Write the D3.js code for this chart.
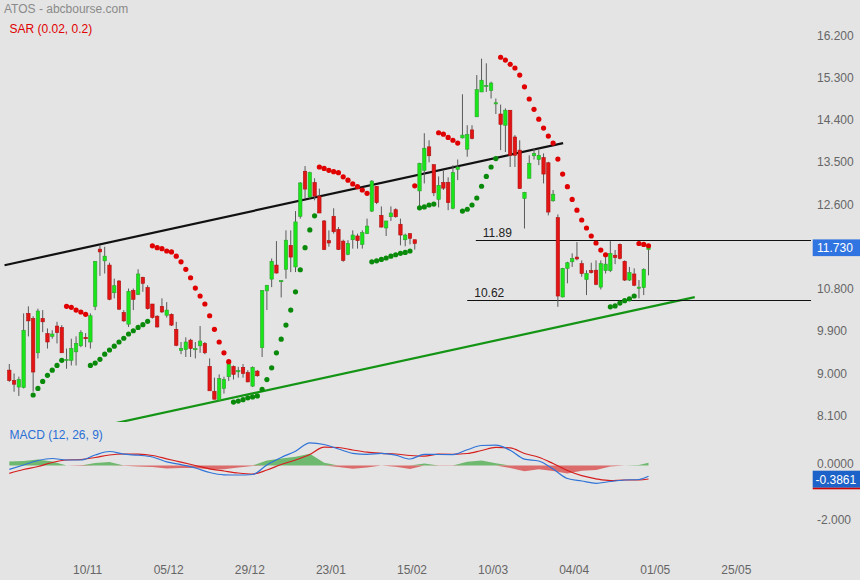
<!DOCTYPE html>
<html><head><meta charset="utf-8">
<script src="https://cdn.jsdelivr.net/npm/d3@7"></script>
<style>
html,body{margin:0;padding:0;background:#e4e4e4;}
svg{display:block;font-family:"Liberation Sans",Arial,sans-serif;}
</style></head><body>
<svg id="c" width="860" height="580"></svg>
<script>
// ---------- DATA ----------
const open = [
9.12, 8.90, 8.76, 8.75, 10.33, 10.22, 9.49, 10.22, 9.90, 9.84,
10.06, 10.03, 9.35, 9.33, 9.51, 9.64, 9.82, 9.72, 10.48, 11.70,
11.45, 11.36, 10.77, 11.02, 10.35, 10.10, 10.82, 10.73, 11.10, 10.88,
10.53, 10.27, 10.48, 10.29, 10.31, 9.99, 9.54, 9.56, 9.76, 9.58,
9.64, 9.69, 9.20, 8.67, 8.48, 8.73, 8.98, 9.20, 9.10, 9.18,
9.07, 8.78, 9.10, 9.60, 10.81, 11.06, 11.36, 11.02, 11.27, 11.78,
11.32, 12.40, 13.36, 12.81, 13.12, 12.83, 12.30, 11.88, 12.40, 12.12,
11.87, 11.59, 11.90, 11.98, 11.80, 12.03, 12.51, 13.04, 12.42, 12.15,
12.39, 12.54, 12.23, 11.90, 12.03, 11.90, 12.94, 13.38, 13.88, 13.50,
12.76, 13.12, 13.12, 12.57, 13.40, 14.07, 13.83, 14.24, 14.52, 15.05,
15.19, 15.08, 14.82, 14.58, 14.34, 14.66, 14.09, 13.81, 12.78, 13.21,
13.69, 13.61, 13.65, 13.54, 12.73, 12.37, 10.68, 11.29, 11.43, 11.53,
11.39, 11.05, 11.24, 11.25, 10.89, 11.24, 11.24, 11.57, 11.80, 11.44,
11.04, 11.17, 10.89, 10.88, 11.69];
const high = [
9.25, 9.05, 8.98, 10.33, 10.48, 10.27, 10.43, 10.40, 10.01, 9.97,
10.15, 10.08, 9.58, 9.79, 9.84, 9.97, 9.91, 10.33, 11.44, 11.78,
11.75, 11.41, 11.07, 11.04, 10.40, 10.86, 10.86, 11.27, 11.11, 10.93,
10.53, 10.29, 10.65, 10.57, 10.33, 10.15, 9.72, 9.82, 9.79, 9.72,
10.06, 9.72, 9.37, 8.96, 9.03, 8.98, 9.30, 9.22, 9.19, 9.25,
9.12, 9.20, 9.12, 10.82, 10.93, 11.50, 11.87, 11.04, 12.10, 12.10,
12.51, 13.13, 13.47, 13.35, 13.21, 12.99, 12.32, 12.10, 12.57, 12.17,
11.90, 11.89, 12.10, 12.03, 12.10, 12.35, 13.17, 13.04, 12.61, 12.30,
12.61, 12.57, 12.35, 12.03, 12.03, 11.90, 13.54, 14.17, 14.02, 13.50,
13.25, 13.37, 13.23, 13.49, 13.61, 15.00, 14.34, 14.34, 15.41, 15.76,
15.66, 15.27, 14.91, 14.78, 14.70, 14.66, 14.13, 14.02, 12.92, 13.70,
13.85, 13.81, 13.74, 13.56, 12.96, 12.44, 11.30, 11.43, 11.61, 11.85,
11.46, 11.25, 11.41, 11.46, 11.46, 11.53, 11.87, 11.68, 11.82, 11.46,
11.32, 11.29, 11.04, 11.29, 11.76];
const low = [
8.87, 8.66, 8.57, 8.73, 9.84, 8.66, 9.37, 9.93, 9.58, 9.79,
9.69, 9.49, 9.15, 9.22, 9.22, 9.61, 9.61, 9.58, 10.40, 11.13,
11.18, 10.61, 10.65, 10.40, 10.15, 10.04, 10.40, 10.72, 10.79, 10.41,
10.22, 10.03, 10.34, 10.24, 10.06, 9.63, 9.46, 9.40, 9.40, 9.37,
9.49, 9.46, 8.68, 8.50, 8.47, 8.62, 8.89, 8.92, 8.96, 8.96,
8.86, 8.76, 8.98, 9.40, 10.40, 10.89, 11.18, 10.67, 11.07, 11.21,
11.21, 12.35, 12.78, 12.78, 12.74, 12.47, 11.68, 11.75, 12.03, 11.68,
11.43, 11.57, 11.71, 11.71, 11.71, 12.02, 12.49, 12.66, 12.16, 11.98,
12.30, 12.37, 11.78, 11.76, 11.80, 11.69, 12.60, 13.10, 13.55, 12.83,
12.59, 12.96, 12.53, 12.55, 13.17, 14.06, 13.67, 14.04, 14.52, 15.05,
15.05, 14.91, 14.58, 13.81, 13.77, 13.45, 13.45, 12.99, 12.14, 13.21,
13.61, 13.49, 13.10, 12.42, 12.71, 10.47, 10.67, 10.97, 11.32, 11.46,
11.11, 10.72, 11.18, 10.93, 10.84, 11.18, 11.21, 11.38, 11.48, 11.02,
11.02, 10.91, 10.65, 10.72, 11.14];
const close = [
8.90, 8.82, 8.92, 9.97, 10.17, 9.08, 10.38, 10.15, 9.72, 9.89,
9.92, 9.49, 9.35, 9.58, 9.69, 9.92, 9.79, 10.28, 11.44, 11.64,
11.55, 10.63, 10.92, 10.42, 10.17, 10.80, 10.63, 11.17, 10.97, 10.43,
10.24, 10.04, 10.36, 10.40, 10.08, 9.65, 9.58, 9.72, 9.58, 9.58,
9.74, 9.49, 8.68, 8.50, 8.94, 8.92, 9.25, 9.03, 9.11, 9.05,
8.87, 9.18, 9.00, 10.82, 10.93, 11.44, 11.19, 11.03, 11.89, 11.53,
12.28, 13.11, 12.98, 13.33, 12.83, 12.47, 11.69, 11.83, 12.07, 11.69,
11.46, 11.82, 12.00, 11.88, 12.05, 12.19, 13.15, 12.69, 12.17, 12.30,
12.47, 12.39, 12.00, 12.00, 11.93, 11.82, 13.53, 13.85, 13.69, 12.90,
13.06, 13.00, 12.69, 13.33, 13.45, 14.13, 14.14, 14.06, 15.10, 15.30,
15.19, 15.24, 14.82, 14.36, 14.66, 13.70, 13.70, 12.99, 12.91, 13.53,
13.74, 13.70, 13.30, 12.49, 12.87, 10.70, 11.29, 11.41, 11.50, 11.49,
11.18, 11.18, 11.20, 10.95, 11.39, 11.38, 11.61, 11.52, 11.50, 11.04,
11.20, 10.93, 10.89, 11.27, 11.73];
// Parabolic SAR (0.02, 0.2), one value per bar
const sar = [null, null, null, null, null,
8.59, 8.73, 8.88, 9.01, 9.12,
9.22, 9.33, 10.48, 10.46, 10.40, 10.36, 10.31, 9.22, 9.27, 9.35,
9.46, 9.55, 9.63, 9.72, 9.80, 9.89, 9.96, 10.03, 10.09, 10.16,
11.77, 11.73, 11.71, 11.66, 11.64, 11.55, 11.43, 11.27, 11.09, 10.87,
10.70, 10.53, 10.28, 9.99, 9.72, 9.49, 9.30, 8.44, 8.46, 8.49,
8.53, 8.55, 8.57, 8.71, 8.92, 9.17, 9.49, 9.78, 10.08, 10.40,
10.79, 11.26, 11.73, 12.11, 12.41, 13.45, 13.42, 13.38, 13.35, 13.33,
13.24, 13.17, 13.09, 13.03, 12.96, 12.89, 11.43, 11.45, 11.48, 11.51,
11.55, 11.58, 11.61, 11.63, 11.66, 13.05, 12.58, 12.60, 12.64, 12.66,
14.18, 14.15, 14.08, 14.02, 13.96, 12.51, 12.55, 12.64, 12.79, 13.04,
13.25, 13.45, 13.63, 15.79, 15.73, 15.64, 15.56, 15.41, 15.16, 14.90,
14.68, 14.47, 14.28, 14.11, 13.96, 13.62, 13.30, 13.03, 12.76, 12.53,
12.32, 12.15, 11.98, 11.83, 11.68, 11.58, 10.47, 10.49, 10.55, 10.60,
10.64, 10.70, 11.82, 11.80, 11.77];
// MACD (12, 26, 9), read at these bars
const macdBars = [0,3,6,9,12,15,18,21,24,27,30,33,36,39,42,45,48,51,54,57,60,63,66,69,72,75,78,81,84,87,90,93,96,99,102,105,108,111,114,117,120,123,126,129,132,134];
const macdLine = [-0.136,0.018,0.179,0.25,0.196,0.196,0.375,0.5,0.404,0.368,0.304,0.132,0.029,-0.089,-0.25,-0.332,-0.339,-0.321,0.018,0.286,0.511,0.811,0.75,0.589,0.436,0.4,0.432,0.368,0.232,0.4,0.393,0.389,0.561,0.714,0.725,0.543,0.225,0.161,-0.125,-0.464,-0.554,-0.636,-0.571,-0.518,-0.5,-0.386];
const signalLine = [-0.279,-0.143,-0.036,0.107,0.196,0.214,0.286,0.375,0.411,0.404,0.357,0.239,0.118,0,-0.118,-0.196,-0.268,-0.304,-0.161,0.036,0.196,0.393,0.654,0.643,0.554,0.475,0.436,0.411,0.357,0.332,0.404,0.4,0.429,0.536,0.646,0.629,0.429,0.296,0.071,-0.179,-0.364,-0.475,-0.539,-0.518,-0.518,-0.482];
// x tick labels (bar index of each label)
const tickBars = [16,33,50,67,84,101,118,135,152];
const tickLabels = ["10/11","05/12","29/12","23/01","15/02","10/03","04/04","01/05","25/05"];
const priceTicks = [16.2,15.3,14.4,13.5,12.6,10.8,9.9,9.0,8.1];
const macdTicks = [0,-2];
const macdTickLabels = ["0.0000","-2.000"];
// trend lines [bar, price]
const upperTrend = [[-1.0,11.357],[116.1,13.958]];
const lowerTrend = [[20.0,7.94],[143.7,10.675]];
// horizontal levels
const levelValues = [11.89, 10.62];
const levelStart = [97.8, 96.0];
const lastPrice = 11.73;
const lastMacd = -0.3861;

// ---------- CHART ----------
const svg = d3.select("#c");
svg.append("rect").attr("width",860).attr("height",580).attr("fill","#e4e4e4");

const x = d3.scaleLinear().domain([0,134]).range([9.3,648.5]);
const y = d3.scaleLinear().domain([8.1,16.2]).range([418,38]);
const ym = d3.scaleLinear().domain([-2,0]).range([521.5,465.5]);

const defs = svg.append("defs");
defs.append("clipPath").attr("id","cp").append("rect").attr("x",0).attr("y",0).attr("width",811).attr("height",422);
defs.append("clipPath").attr("id","cm").append("rect").attr("x",0).attr("y",425).attr("width",811).attr("height",120);

const price = svg.append("g").attr("clip-path","url(#cp)");
const bars = d3.range(open.length);

// trend lines
const line = d3.line().x(d=>x(d[0])).y(d=>y(d[1]));
price.append("path").attr("d",line(upperTrend)).attr("stroke","#111").attr("stroke-width",2.2).attr("fill","none");
price.append("path").attr("d",line(lowerTrend)).attr("stroke","#149414").attr("stroke-width",2.2).attr("fill","none");

// levels
levelValues.forEach((v,i)=>{
  price.append("line").attr("x1",x(levelStart[i])).attr("x2",811)
    .attr("y1",Math.round(y(v))+0.5).attr("y2",Math.round(y(v))+0.5)
    .attr("stroke","#111").attr("stroke-width",1);
  price.append("text").attr("x",x(levelStart[i])+7).attr("y",y(v)-3)
    .attr("font-size",12).attr("fill","#222").text(v.toFixed(2));
});

// candles
const cg = price.append("g");
cg.selectAll("line.w").data(bars).join("line").attr("class","w")
  .attr("x1",i=>x(i)).attr("x2",i=>x(i))
  .attr("y1",i=>y(high[i])).attr("y2",i=>y(low[i]))
  .attr("stroke","#5a5a5a").attr("stroke-width",1);
cg.selectAll("rect.b").data(bars).join("rect").attr("class","b")
  .attr("x",i=>x(i)-1.7).attr("width",3.4)
  .attr("y",i=>y(Math.max(open[i],close[i])))
  .attr("height",i=>Math.max(1.2,Math.abs(y(open[i])-y(close[i]))))
  .attr("fill",i=>close[i]>=open[i]?"#19e619":"#e31414")
  .attr("stroke",i=>close[i]>=open[i]?"#2fa02f":"#b01010")
  .attr("stroke-width",0.6);

// SAR
price.selectAll("circle.s").data(bars.filter(i=>sar[i]!=null)).join("circle").attr("class","s")
  .attr("cx",i=>x(i)).attr("cy",i=>y(sar[i])).attr("r",2.6)
  .attr("fill",i=>sar[i]>close[i]?"#e00000":"#0a8a0a");

// price axis
const ay = svg.append("g").attr("transform","translate(811,0)")
  .call(d3.axisRight(y).tickValues(priceTicks).tickFormat(d3.format(".3f")).tickSize(0).tickPadding(6));
ay.select(".domain").remove();
ay.selectAll("text").attr("font-size",12).attr("fill","#666").attr("dy",1.3)
  .attr("font-family","Liberation Sans, Arial, sans-serif");

// last price box
svg.append("rect").attr("x",812.7).attr("y",y(lastPrice)-8.3).attr("width",48).attr("height",16.7).attr("fill","#2f74e0");
svg.append("text").attr("x",817).attr("y",y(lastPrice)+4.3).attr("font-size",12).attr("fill","#fff").text(lastPrice.toFixed(3));

// MACD panel
const mg = svg.append("g").attr("clip-path","url(#cm)");
const hist = macdLine.map((m,i)=>m-signalLine[i]);
const hx = (d,i)=>x(macdBars[i]);
mg.append("path").attr("d",d3.area().x(hx).y0(ym(0)).y1(d=>ym(Math.max(0,d)))(hist))
  .attr("fill","#6fb86f");
mg.append("path").attr("d",d3.area().x(hx).y0(ym(0)).y1(d=>ym(Math.min(0,d)))(hist))
  .attr("fill","#dc6b6b");
const ml = d3.line().x(hx).y(d=>ym(d)).curve(d3.curveMonotoneX);
mg.append("path").attr("d",ml(signalLine)).attr("stroke","#d61e1e").attr("stroke-width",1.2).attr("fill","none");
mg.append("path").attr("d",ml(macdLine)).attr("stroke","#2f73d8").attr("stroke-width",1.2).attr("fill","none");

const am = svg.append("g").attr("transform","translate(811,0)")
  .call(d3.axisRight(ym).tickValues(macdTicks).tickFormat((d,i)=>macdTickLabels[i]).tickSize(0).tickPadding(6));
am.select(".domain").remove();
am.selectAll("text").attr("font-size",12).attr("fill","#666").attr("dy",2)
  .attr("font-family","Liberation Sans, Arial, sans-serif");

const mb = ym(lastMacd)+2.9;
svg.append("rect").attr("x",812.7).attr("y",mb-8.5).attr("width",48).attr("height",17).attr("fill","#1d62c8");
svg.append("rect").attr("x",812.7).attr("y",mb+8.5).attr("width",48).attr("height",1.6).attr("fill","#cc0000");
svg.append("text").attr("x",815.5).attr("y",mb+4.3).attr("font-size",12).attr("fill","#fff").text(lastMacd.toFixed(4));

// x axis
const ax = svg.append("g").attr("transform","translate(0,562)")
  .call(d3.axisBottom(x).tickValues(tickBars).tickFormat((d,i)=>tickLabels[i]).tickSize(0).tickPadding(3));
ax.select(".domain").remove();
ax.selectAll("text").attr("font-size",12).attr("fill","#666").attr("dx",1.5)
  .attr("font-family","Liberation Sans Narrow, Liberation Sans, Arial, sans-serif");

// titles
svg.append("text").attr("x",4).attr("y",12.5).attr("font-size",12).attr("fill","#8a8a8a").text("ATOS - abcbourse.com");
svg.append("text").attr("x",9.5).attr("y",33).attr("font-size",12).attr("fill","#e00000").text("SAR (0.02, 0.2)");
svg.append("text").attr("x",9.5).attr("y",438.5).attr("font-size",12).attr("fill","#2a6fd6").text("MACD (12, 26, 9)");
</script>
</body></html>
